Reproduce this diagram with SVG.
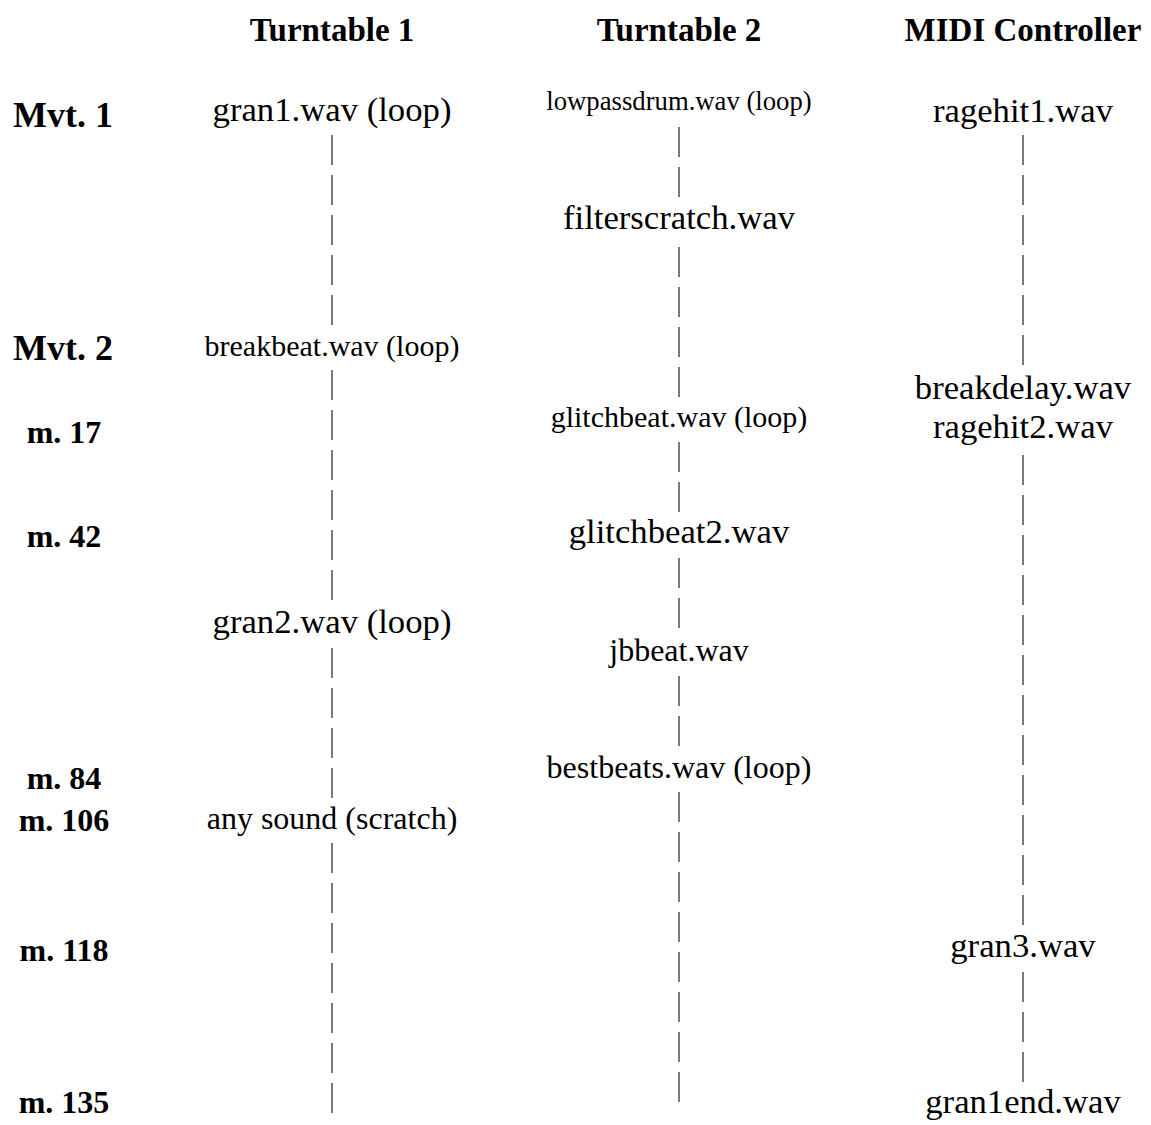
<svg xmlns="http://www.w3.org/2000/svg" width="1151" height="1125" viewBox="0 0 1151 1125">
<style>
text{font-family:"Liberation Serif","Times New Roman",serif;fill:#000;text-anchor:middle}
.h{font-weight:bold;font-size:33px}
.mv{font-weight:bold;font-size:36px}
.m{font-weight:bold;font-size:32px}
.t{font-size:34.7px}
.t32{font-size:32px}
.t30{font-size:30px}
.t27{font-size:26.7px}
.c line{stroke:#333;stroke-width:1.3;stroke-dasharray:30 10;fill:none}
</style>
<rect width="1151" height="1125" fill="#fff"/>
<g id="headers">
<text class="h" x="332" y="41">Turntable 1</text>
<text class="h" x="679" y="41">Turntable 2</text>
<text class="h" x="1023" y="41">MIDI Controller</text>
</g>
<g id="rows">
<text class="mv" x="63" y="127">Mvt. 1</text>
<text class="mv" x="63" y="360">Mvt. 2</text>
<text class="m" x="64" y="443">m. 17</text>
<text class="m" x="64" y="547">m. 42</text>
<text class="m" x="64" y="789">m. 84</text>
<text class="m" x="64" y="831">m. 106</text>
<text class="m" x="64" y="961">m. 118</text>
<text class="m" x="64" y="1113">m. 135</text>
</g>
<g id="connectors" class="c">
<line x1="332" y1="135" x2="332" y2="325"/>
<line x1="332" y1="370" x2="332" y2="600"/>
<line x1="332" y1="648" x2="332" y2="798"/>
<line x1="332" y1="843" x2="332" y2="1113"/>
<line x1="679" y1="127" x2="679" y2="197"/>
<line x1="679" y1="247" x2="679" y2="397"/>
<line x1="679" y1="442" x2="679" y2="512"/>
<line x1="679" y1="558" x2="679" y2="628"/>
<line x1="679" y1="676" x2="679" y2="746"/>
<line x1="679" y1="792" x2="679" y2="1102"/>
<line x1="1023" y1="135" x2="1023" y2="365"/>
<line x1="1023" y1="455" x2="1023" y2="925"/>
<line x1="1023" y1="972" x2="1023" y2="1082"/>
</g>
<g id="tt1">
<text class="t" x="332" y="121">gran1.wav (loop)</text>
<text class="t30" x="332" y="356">breakbeat.wav (loop)</text>
<text class="t" x="332" y="633">gran2.wav (loop)</text>
<text class="t32" x="332" y="829">any sound (scratch)</text>
</g>
<g id="tt2">
<text class="t27" x="679" y="110">lowpassdrum.wav (loop)</text>
<text class="t" x="679" y="229">filterscratch.wav</text>
<text class="t30" x="679" y="427">glitchbeat.wav (loop)</text>
<text class="t" x="679" y="543">glitchbeat2.wav</text>
<text class="t32" x="679" y="661">jbbeat.wav</text>
<text class="t32" x="679" y="778">bestbeats.wav (loop)</text>
</g>
<g id="midi">
<text class="t" x="1023" y="122">ragehit1.wav</text>
<text class="t" x="1023" y="399">breakdelay.wav</text>
<text class="t" x="1023" y="438">ragehit2.wav</text>
<text class="t" x="1023" y="957">gran3.wav</text>
<text class="t" x="1023" y="1113">gran1end.wav</text>
</g>
</svg>
